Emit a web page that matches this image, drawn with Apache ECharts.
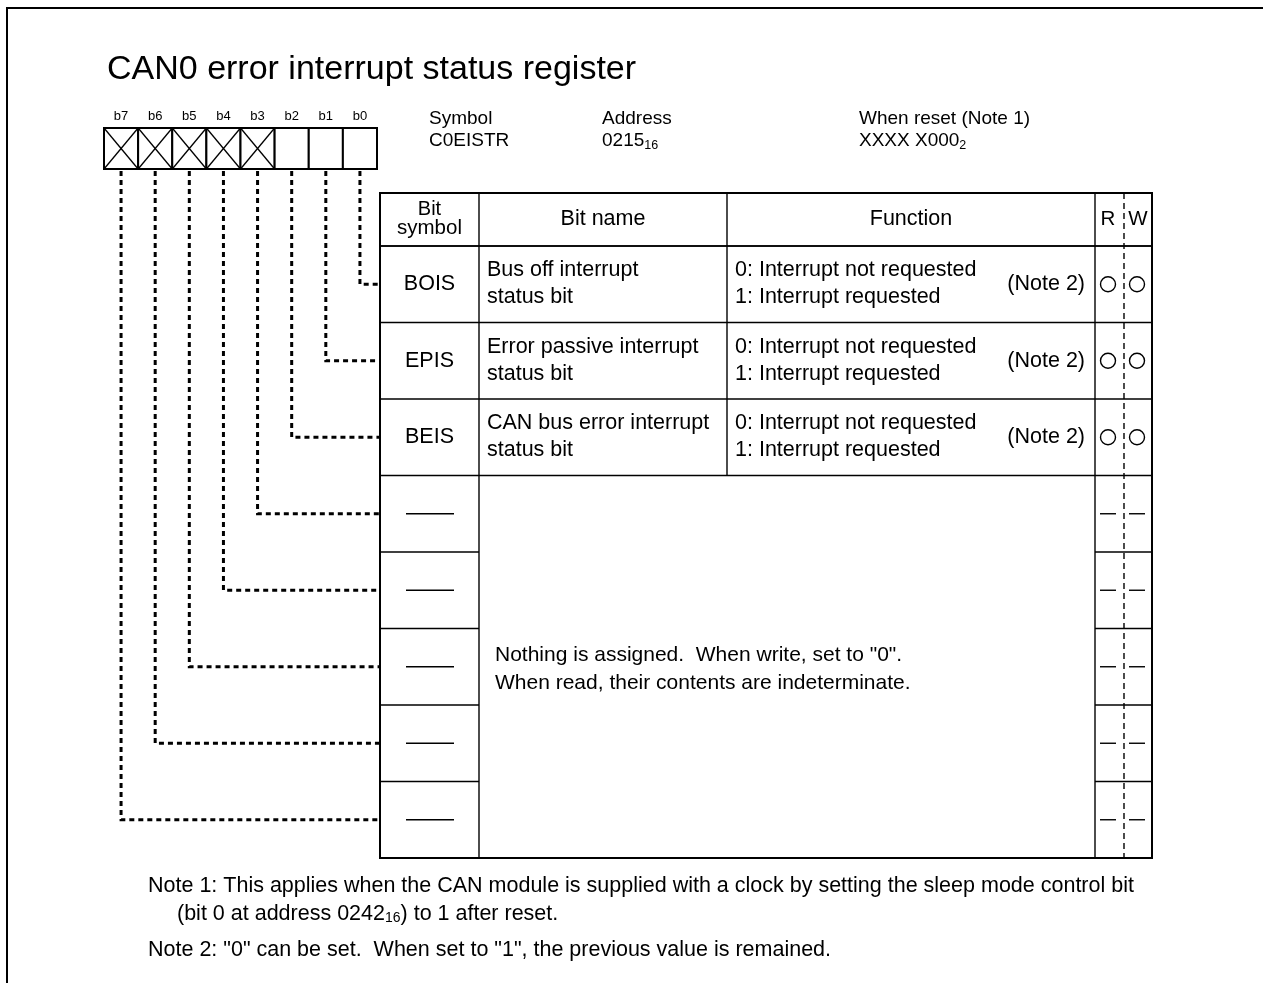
<!DOCTYPE html>
<html>
<head>
<meta charset="utf-8">
<script src="https://cdn.jsdelivr.net/npm/echarts@6/dist/echarts.min.js"></script>
<style>html,body{margin:0;padding:0;background:#fff}#c{width:1263px;height:983px}</style>
</head>
<body>
<div id="c"></div>
<script>
// ---------- data ----------
const chartTitle = 'CAN0 error interrupt status register';
const bitLabels = ['b7', 'b6', 'b5', 'b4', 'b3', 'b2', 'b1', 'b0'];
const reservedBits = [true, true, true, true, true, false, false, false];
const infoHeads = ['Symbol', 'Address', 'When reset (Note 1)'];
const infoValues = ['C0EISTR', '0215{s|16}', 'XXXX X000{s|2}'];
const headerLabels = ['Bit\nsymbol', 'Bit name', 'Function', 'R', 'W'];
// rows in order b0 .. b7
const bitSymbols = ['BOIS', 'EPIS', 'BEIS', '', '', '', '', ''];
const bitNames = [
  ['Bus off interrupt', 'status bit'],
  ['Error passive interrupt', 'status bit'],
  ['CAN bus error interrupt', 'status bit']
];
const bitFunctions = [
  ['0: Interrupt not requested', '1: Interrupt requested'],
  ['0: Interrupt not requested', '1: Interrupt requested'],
  ['0: Interrupt not requested', '1: Interrupt requested']
];
const functionNotes = ['(Note 2)', '(Note 2)', '(Note 2)'];
const readAccess = ['O', 'O', 'O', '-', '-', '-', '-', '-'];
const writeAccess = ['O', 'O', 'O', '-', '-', '-', '-', '-'];
const reservedText = ['Nothing is assigned.  When write, set to "0".', 'When read, their contents are indeterminate.'];
const notes = [
  'Note 1: This applies when the CAN module is supplied with a clock by setting the sleep mode control bit',
  '(bit 0 at address 0242{s|16}) to 1 after reset.',
  'Note 2: "0" can be set.  When set to "1", the previous value is remained.'
];

// ---------- layout ----------
const W = 1263, H = 983;
const FONT = 'Liberation Sans, Arial, sans-serif';
const BODY = 21.5;
const box = { left: 104, top: 128, cellW: 34.125, h: 41, labelY: 116 };
const tbl = { left: 380, top: 193, headBottom: 246, rowH: 76.5, right: 1152,
  cols: [380, 479, 727, 1095, 1152], rw: 1124, rX: 1108, wX: 1137 };
const rowTop = r => tbl.headBottom + r * tbl.rowH;
const rowMid = r => rowTop(r) + tbl.rowH / 2;
const tableBottom = rowTop(8);
const ink = '#000';

function P(api, x, y) { return api.coord([x, y]); }
function line(api, x1, y1, x2, y2, w, dash) {
  const a = P(api, x1, y1), b = P(api, x2, y2);
  return { type: 'line', shape: { x1: a[0], y1: a[1], x2: b[0], y2: b[1] },
    style: { stroke: ink, lineWidth: w, lineDash: dash || null } };
}
function txt(api, x, y, t, size, align, extra) {
  const a = P(api, x, y);
  const st = { text: t, x: a[0], y: a[1], fill: ink, font: size + 'px ' + FONT,
    textAlign: align || 'left', textVerticalAlign: 'middle' };
  if (extra) Object.assign(st, extra);
  return { type: 'text', style: st };
}
const subRich = (size) => ({ rich: { s: { fontSize: size, fontFamily: FONT, verticalAlign: 'bottom', lineHeight: size + 9 } } });

function renderRegister(params, api) {
  const i = api.value(0);
  const bit = 7 - i;
  const x0 = box.left + i * box.cellW;
  const cx = x0 + box.cellW / 2;
  const a = P(api, x0, box.top), b = P(api, x0 + box.cellW, box.top + box.h);
  const ch = [
    { type: 'rect', shape: { x: a[0], y: a[1], width: b[0] - a[0], height: b[1] - a[1] },
      style: { fill: '#fff', stroke: ink, lineWidth: 2 } },
    txt(api, cx, box.labelY, bitLabels[i], 13, 'center')
  ];
  if (reservedBits[i]) {
    ch.push(line(api, x0, box.top, x0 + box.cellW, box.top + box.h, 1.3));
    ch.push(line(api, x0 + box.cellW, box.top, x0, box.top + box.h, 1.3));
  }
  const p1 = P(api, cx, box.top + box.h + 2), p2 = P(api, cx, rowMid(bit)), p3 = P(api, tbl.left, rowMid(bit));
  ch.push({ type: 'polyline', shape: { points: [p1, p2, p3] },
    style: { stroke: ink, lineWidth: 3, lineDash: [5, 4], fill: null } });
  return { type: 'group', children: ch };
}

function renderRow(params, api) {
  const r = api.value(0);
  const yT = rowTop(r), cy = rowMid(r);
  const c = tbl.cols;
  const ch = [];
  if (r <= 3) ch.push(line(api, c[0], yT, c[4], yT, 1.4));
  else { ch.push(line(api, c[0], yT, c[1], yT, 1.4)); ch.push(line(api, c[3], yT, c[4], yT, 1.4)); }
  if (bitSymbols[r]) ch.push(txt(api, (c[0] + c[1]) / 2, cy, bitSymbols[r], BODY, 'center'));
  else ch.push(line(api, 406, cy, 454, cy, 1.5));
  if (bitNames[r]) {
    ch.push(txt(api, c[1] + 8, cy - 14, bitNames[r][0], BODY));
    ch.push(txt(api, c[1] + 8, cy + 13, bitNames[r][1], BODY));
  }
  if (bitFunctions[r]) {
    ch.push(txt(api, c[2] + 8, cy - 14, bitFunctions[r][0], BODY));
    ch.push(txt(api, c[2] + 8, cy + 13, bitFunctions[r][1], BODY));
    ch.push(txt(api, c[3] - 10, cy, functionNotes[r], BODY, 'right'));
  }
  [[readAccess[r], tbl.rX], [writeAccess[r], tbl.wX]].forEach(([v, x]) => {
    if (v === 'O') {
      const p = P(api, x, cy);
      ch.push({ type: 'circle', shape: { cx: p[0], cy: p[1], r: 7.5 }, style: { fill: null, stroke: ink, lineWidth: 1.4 } });
    } else ch.push(line(api, x - 8, cy, x + 8, cy, 1.4));
  });
  return { type: 'group', children: ch };
}

function renderFrame(params, api) {
  const c = tbl.cols;
  const ch = [];
  // outer page frame
  ch.push({ type: 'polyline', shape: { points: [P(api, 7, H + 5), P(api, 7, 8), P(api, W + 5, 8)] },
    style: { stroke: ink, lineWidth: 2, fill: null } });
  // table border & columns
  const a = P(api, c[0], tbl.top), b = P(api, c[4], tableBottom);
  ch.push({ type: 'rect', shape: { x: a[0], y: a[1], width: b[0] - a[0], height: b[1] - a[1] },
    style: { fill: null, stroke: ink, lineWidth: 2 } });
  ch.push(line(api, c[1], tbl.top, c[1], tableBottom, 1.4));
  ch.push(line(api, c[2], tbl.top, c[2], rowTop(3), 1.4));
  ch.push(line(api, c[3], tbl.top, c[3], tableBottom, 1.4));
  ch.push(line(api, c[0], tbl.headBottom, c[4], tbl.headBottom, 1.4));
  ch.push(line(api, tbl.rw, tbl.top, tbl.rw, tableBottom, 1.4, [6, 4]));
  // headers
  const hy = (tbl.top + tbl.headBottom) / 2;
  const hs = headerLabels[0].split('\n');
  ch.push(txt(api, (c[0] + c[1]) / 2, hy - 10, hs[0], 20, 'center'));
  ch.push(txt(api, (c[0] + c[1]) / 2, hy + 9, hs[1], 20.5, 'center'));
  ch.push(txt(api, (c[1] + c[2]) / 2, hy, headerLabels[1], BODY, 'center'));
  ch.push(txt(api, (c[2] + c[3]) / 2, hy, headerLabels[2], BODY, 'center'));
  ch.push(txt(api, tbl.rX, hy, headerLabels[3], 20.5, 'center'));
  ch.push(txt(api, tbl.wX + 1, hy, headerLabels[4], 20.5, 'center'));
  // merged reserved cell
  const my = (rowTop(3) + tableBottom) / 2;
  ch.push(txt(api, c[1] + 16, my - 12, reservedText[0], 21));
  ch.push(txt(api, c[1] + 16, my + 16, reservedText[1], 21));
  // title
  ch.push(txt(api, 107, 70, chartTitle, 34));
  // info
  const infoX = [429, 602, 859];
  infoHeads.forEach((h, k) => {
    ch.push(txt(api, infoX[k], 119, h, 19));
    ch.push(txt(api, infoX[k], 141, infoValues[k], 19, 'left', subRich(12.5)));
  });
  // notes
  ch.push(txt(api, 148, 886, notes[0], BODY));
  ch.push(txt(api, 177, 914, notes[1], BODY, 'left', subRich(14)));
  ch.push(txt(api, 148, 950, notes[2], BODY));
  return { type: 'group', children: ch };
}

const chart = echarts.init(document.getElementById('c'), null, { renderer: 'canvas' });
chart.setOption({
  animation: false,
  backgroundColor: '#fff',
  grid: { left: 0, right: 0, top: 0, bottom: 0 },
  xAxis: { type: 'value', min: 0, max: W, show: false },
  yAxis: { type: 'value', min: 0, max: H, inverse: true, show: false },
  series: [
    { type: 'custom', name: 'frame', renderItem: renderFrame, data: [[0, 0]], silent: true },
    { type: 'custom', name: 'rows', renderItem: renderRow, data: bitSymbols.map((s, r) => [r, r]), silent: true },
    { type: 'custom', name: 'register', renderItem: renderRegister, data: bitLabels.map((b, i) => [i, i]), silent: true }
  ]
});
</script>
</body>
</html>
